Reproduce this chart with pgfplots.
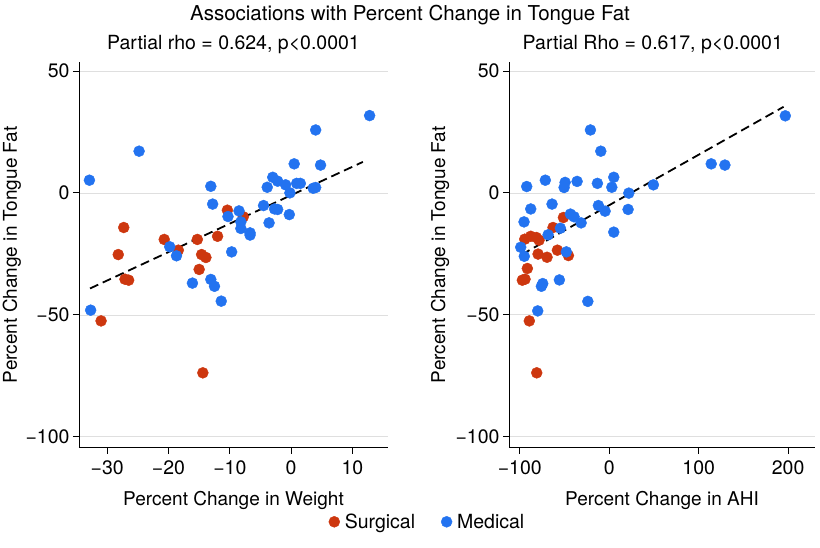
\documentclass[border=0pt]{standalone}
\usepackage{pgfplots}
\pgfplotsset{compat=1.18}
\usepackage{fontspec}
\setmainfont{TeX Gyre Heros}
\definecolor{surg}{RGB}{205,55,15}
\definecolor{med}{RGB}{35,115,240}
\begin{document}
\begin{tikzpicture}
\useasboundingbox (0,0) rectangle (820pt,548pt);
\pgfplotsset{
  base/.style={
    scale only axis, height=386pt,
    axis x line*=bottom, axis y line*=left,
    axis line style={black, line width=0.8pt, -},
    tick align=outside, major tick length=6pt,
    major tick style={black, line width=0.8pt},
    ymin=-104.5, ymax=53.8,
    ytick={-100,-50,0,50}, yticklabels={−100,−50,0,50},
    ymajorgrids, major grid style={gray!25, line width=0.6pt},
    tick label style={font=\fontsize{19.5}{22}\selectfont},
    xticklabel style={yshift=-3pt},
    label style={font=\fontsize{19}{22}\selectfont},
    title style={font=\fontsize{19.5}{22}\selectfont, anchor=center, yshift=11pt},
    ylabel={Percent Change in Tongue Fat},
    x label style={at={(axis description cs:0.5,-0.136)}, anchor=center},
  },
  sm/.style={only marks, mark=*, mark size=5.5pt, mark options={draw=surg, fill=surg}},
  mm/.style={only marks, mark=*, mark size=5.5pt, mark options={draw=med, fill=med}},
  fitl/.style={black, dashed, line width=1.8pt, dash pattern=on 9pt off 5pt, forget plot, no marks},
}
\begin{axis}[base, at={(79pt,100.3pt)}, anchor=south west, width=309pt,
  xmin=-34.6, xmax=15.8,
  xtick={-30,-20,-10,0,10}, xticklabels={−30,−20,−10,0,10},
  xlabel={Percent Change in Weight},
  y label style={at={(axis description cs:-0.217,0.5)}, anchor=center},
  title={Partial rho = 0.624, p<0.0001},
  legend columns=2,
  legend style={at={(axis description cs:1.128,-0.192)}, anchor=center, draw=none, fill=none,
    font=\fontsize{19.5}{22}\selectfont, column sep=3pt, /tikz/every even column/.append style={column sep=24pt}},
]
\addplot[fitl] coordinates {(-32.8,-39.2) (11.7,12.7)};
\addplot[sm] coordinates {
(-10.4,-7.1) (-27.3,-14.2) (-20.7,-19.1) (-18.4,-23.5) (-15.3,-19.1)
(-12.0,-17.8) (-28.2,-25.3) (-14.6,-25.3) (-13.9,-26.5) (-15.0,-31.4)
(-7.8,-9.8) (-27.1,-35.4) (-26.5,-35.8) (-31.0,-52.5) (-14.4,-73.8)
};
\addlegendentry{Surgical}
\addplot[mm] coordinates {
(-32.9,5.2) (-24.8,17.1) (-13.1,2.7) (-12.8,-4.6) (-10.3,-9.7)
(-19.8,-22.1) (-18.7,-25.8) (-9.7,-24.2) (12.8,31.7) (4.0,25.8)
(0.5,11.9) (4.8,11.4) (-3.0,6.4) (-2.2,4.8) (-0.9,3.3)
(0.9,3.9) (1.5,3.9) (-3.9,2.3) (-0.2,0) (3.6,1.9)
(4.0,2.2) (-8.5,-7.4) (-4.5,-5.2) (-2.7,-6.6) (-2.2,-6.8)
(-0.3,-8.9) (-8.2,-11.9) (-8.2,-14.6) (-3.6,-12.3) (-6.7,-16.4)
(-6.7,-17.3) (-16.1,-37.0) (-13.1,-35.5) (-12.5,-38.3) (-11.4,-44.4)
(-32.7,-48.1)
};
\addlegendentry{Medical}
\end{axis}
\begin{axis}[base, at={(509pt,100.3pt)}, anchor=south west, width=306pt,
  xmin=-112, xmax=230,
  xtick={-100,0,100,200}, xticklabels={−100,0,100,200},
  xlabel={Percent Change in AHI},
  y label style={at={(axis description cs:-0.225,0.5)}, anchor=center},
  title={Partial Rho = 0.617, p<0.0001},
  title style={at={(0.47,1)}},
]
\addplot[fitl] coordinates {(-97.8,-25.3) (194.9,35.3)};
\addplot[sm] coordinates {
(-51.2,-10.1) (-62.8,-14.2) (-94.4,-19.0) (-87.7,-17.8) (-81.4,-18.3)
(-78.4,-19.4) (-79.5,-25.1) (-69.5,-26.4) (-57.9,-23.5) (-45.6,-25.7)
(-91.5,-31.0) (-97.1,-35.8) (-94.1,-35.4) (-89.3,-52.5) (-81.0,-73.8)
};
\addplot[mm] coordinates {
(-21.0,25.8) (-9.4,17.1) (-92.2,2.6) (-71.4,5.2) (-49.3,4.3)
(-50.4,2.2) (-35.9,4.7) (-13.2,3.9) (5.1,6.4) (2.9,2.3)
(21.9,-0.1) (21.1,-6.8) (-87.7,-6.6) (-63.9,-4.6) (-12.1,-5.2)
(-4.6,-7.5) (-43.4,-8.7) (-39.3,-9.8) (-31.4,-12.3) (-95.2,-11.9)
(-54.6,-14.5) (-68.3,-17.2) (5.1,-16.1) (-98.9,-22.3) (-94.9,-26.0)
(-47.9,-24.2) (-75.8,-38.3) (-74.3,-37.2) (-55.7,-35.7) (-23.9,-44.5)
(-79.9,-48.4) (196.8,31.6) (114.0,11.9) (129.3,11.4) (49.4,3.3)
};
\end{axis}
\node[font=\fontsize{20.5}{23}\selectfont] at (410pt,533pt) {Associations with Percent Change in Tongue Fat};
\end{tikzpicture}
\end{document}
